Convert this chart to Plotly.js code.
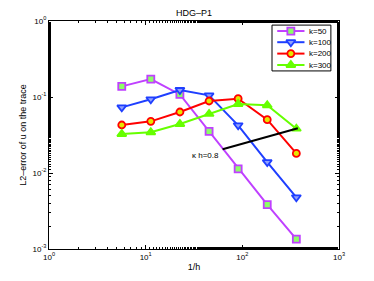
<!DOCTYPE html>
<html><head><meta charset="utf-8">
<script src="https://cdn.plot.ly/plotly-3.0.1.min.js"></script>
<style>html,body{margin:0;padding:0;background:#fff}#c{width:374px;height:281px}</style>
</head><body><div id="c"></div>
<script>
const invH = [5.66, 11.3, 22.6, 45.3, 90.5, 181, 362];
const err50 = [0.138, 0.172, 0.108, 0.0353, 0.0113, 0.00383, 0.00135];
const err100 = [0.0731, 0.0932, 0.1237, 0.105, 0.0424, 0.0139, 0.00479];
const err200 = [0.0428, 0.0478, 0.0635, 0.0886, 0.0951, 0.0503, 0.0181];
const err300 = [0.0326, 0.0343, 0.0441, 0.0598, 0.0809, 0.0777, 0.0383];
const khX = [62.5, 125, 250, 375];
const khY = [0.0205, 0.0261, 0.0329, 0.0387];
const names = ['k=50', 'k=100', 'k=200', 'k=300'];
const xTickVals = [1, 10, 100, 1000];
const xTickText = ['10<sup>0</sup>', '10<sup>1</sup>', '10<sup>2</sup>', '10<sup>3</sup>'];
const yTickVals = [0.001, 0.01, 0.1, 1];
const yTickText = ['10<sup>-3</sup>', '10<sup>-2</sup>', '10<sup>-1</sup>', '10<sup>0</sup>'];

const F = 'Liberation Sans, Arial, sans-serif';
const styles = [
  {color: '#bf40ff', sym: 'square', face: '#8cff66', sz: 7},
  {color: '#1f3fff', sym: 'triangle-down', face: '#8fa0ff', sz: 8},
  {color: '#ff0000', sym: 'circle', face: '#e6e600', sz: 7},
  {color: '#66ff00', sym: 'triangle-up', face: '#66ff00', sz: 8}
];
const series = [err50, err100, err200, err300];
const data = [];
series.forEach((y, i) => {
  const s = styles[i];
  data.push({x: invH, y: y, name: names[i], type: 'scatter', mode: 'lines+markers', showlegend: false,
    line: {color: s.color, width: 2},
    marker: {symbol: s.sym, size: s.sz, color: s.face, line: {color: s.color, width: 1.8}}});
});
data.push({x: khX, y: khY, type: 'scatter', mode: 'lines', showlegend: false, line: {color: '#000', width: 2}});

// compact legend (paper-like overlay axes)
const legRowY = [0.956, 0.907, 0.857, 0.807];
const legX = [0.787, 0.834, 0.881];
const annotations = [];
names.forEach((n, i) => {
  const s = styles[i];
  data.push({x: legX, y: [legRowY[i], legRowY[i], legRowY[i]], xaxis: 'x2', yaxis: 'y2', type: 'scatter',
    mode: 'lines+markers', showlegend: false, line: {color: s.color, width: 2},
    marker: {symbol: s.sym, size: s.sz, color: s.face, opacity: [0, 1, 0], line: {color: s.color, width: 1.8}}});
  annotations.push({x: 0.889, y: legRowY[i], xref: 'paper', yref: 'paper', text: n, showarrow: false,
    xanchor: 'left', yanchor: 'middle', font: {family: F, size: 8, color: '#000'}});
});
annotations.push({x: Math.log10(khX[0]), y: Math.log10(khY[0]), xref: 'x', yref: 'y', text: '\u03ba h=0.8',
  showarrow: false, xanchor: 'right', yanchor: 'middle', xshift: -2, yshift: -6,
  font: {family: F, size: 8, color: '#000'}});

const ax = {type: 'log', showgrid: false, zeroline: false, showline: true, linecolor: '#000', linewidth: 1,
  mirror: 'allticks', ticks: 'inside', ticklen: 4, tickcolor: '#000',
  minor: {ticks: 'inside', ticklen: 2, tickcolor: '#000', showgrid: false},
  tickfont: {family: F, size: 8, color: '#000'}};
const hid = {range: [0, 1], visible: false, showgrid: false, zeroline: false, fixedrange: true};
const layout = {
  width: 374, height: 281, margin: {l: 49, r: 35, t: 21, b: 32},
  paper_bgcolor: '#fff', plot_bgcolor: '#fff', showlegend: false,
  title: {text: 'HDG\u2013P1', font: {family: F, size: 9, color: '#000'}, x: 0.5, xref: 'paper', y: 0.955, yanchor: 'middle'},
  xaxis: Object.assign({}, ax, {range: [0, 3], tickvals: xTickVals, ticktext: xTickText,
    title: {text: '1/h', font: {family: F, size: 9, color: '#000'}, standoff: 3}}),
  yaxis: Object.assign({}, ax, {range: [-3, 0], tickvals: yTickVals, ticktext: yTickText,
    title: {text: 'L2\u2013error of u on the trace', font: {family: F, size: 9, color: '#000'}, standoff: 4}}),
  xaxis2: Object.assign({}, hid, {overlaying: 'x'}),
  yaxis2: Object.assign({}, hid, {overlaying: 'y'}),
  shapes: [{type: 'rect', xref: 'paper', yref: 'paper', x0: 0.769, x1: 0.972, y0: 0.781, y1: 0.982,
    line: {color: '#000', width: 1}, fillcolor: '#fff', layer: 'below'}],
  annotations: annotations
};
Plotly.newPlot('c', data, layout, {staticPlot: true, displayModeBar: false});
</script></body></html>
